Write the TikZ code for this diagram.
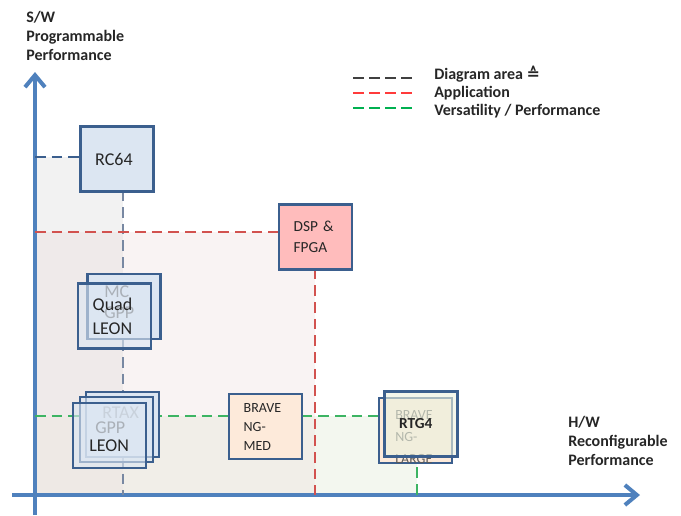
\documentclass[tikz,border=0pt]{standalone}
\usepackage{fontspec}
\setmainfont{Carlito}
\newfontfamily\symfont{DejaVu Sans}
\usetikzlibrary{arrows.meta}

\definecolor{axisblue}{HTML}{4F81BD}
\definecolor{boxline}{HTML}{3B5F8E}
\definecolor{chipblue}{HTML}{DCE6F2}
\definecolor{chippink}{HTML}{FFBCBC}
\definecolor{chippeach}{HTML}{FDEADA}
\definecolor{chipgreen}{HTML}{EBF1DE}
\definecolor{areagray}{HTML}{F2F2F2}
\definecolor{areapink}{HTML}{F9F3F3}
\definecolor{areagreen}{HTML}{F3F7EF}
\definecolor{areagp}{HTML}{EFEAEA}
\definecolor{areapg}{HTML}{F1EEE8}
\definecolor{areaall}{HTML}{EEE9E5}
\definecolor{diagdash}{HTML}{3B5F8E}
\definecolor{diagfade}{HTML}{7888A2}
\definecolor{appdash}{HTML}{D2524F}
\definecolor{verdash}{HTML}{3DB463}
\definecolor{legdark}{HTML}{404040}
\definecolor{legred}{HTML}{FF3B3B}
\definecolor{leggreen}{HTML}{00B050}
\definecolor{txt}{HTML}{262626}
\definecolor{hidden}{HTML}{595959}

\tikzset{
  axisline/.style={draw=axisblue, line width=3pt, -{Straight Barb[length=9pt,width=15pt]}},
  chip/.style={draw=boxline, line width=1.9pt, minimum width=54.75pt, minimum height=48.75pt,
    inner xsep=11pt, inner ysep=0pt, text width=32.75pt, align=left, text=txt,
    font=\fontsize{13.5}{18}\selectfont},
  front/.style={fill opacity=0.62, text opacity=1},
  ghost/.style={anchor=west, inner sep=0pt, align=left, text=hidden},
  areadash/.style={line width=1.5pt, dash pattern=on 8pt off 4.5pt},
  legdash/.style={line width=1.6pt, dash pattern=on 8pt off 4pt},
  legtext/.style={anchor=base west, inner sep=0pt, text=txt, font=\bfseries\fontsize{12}{14}\selectfont},
  axislabel/.style={anchor=north west, inner sep=0pt, align=left, text=txt,
    font=\bfseries\fontsize{12}{14.25}\selectfont},
}

\begin{document}
\begin{tikzpicture}[x=0.75pt,y=-0.75pt]
\useasboundingbox (0,0) rectangle (681,515);

% origin and the corners of the three areas
\coordinate (o) at (35,495);
\coordinate (dp) at (123,157);
\coordinate (ap) at (315,232);
\coordinate (vp) at (417,416);

% areas
\fill[areapink] (o) rectangle (ap);
\fill[areagreen] (o) rectangle (vp);
\fill[areapg] (o) rectangle (ap |- vp);
\fill[areagray] (o) rectangle (dp);
\fill[areagp] (o) rectangle (dp |- ap);
\fill[areaall] (o) rectangle (dp |- vp);

% axes
\coordinate (ybot) at (35,515);
\coordinate (ytop) at (35,72);
\coordinate (xbeg) at (12,495);
\coordinate (xend) at (640,495);
\draw[axisline] (ybot) -- (ytop);
\draw[axisline] (xbeg) -- (xend);

% area borders
\draw[areadash, diagdash] (o |- dp) -- (dp);
\draw[areadash, diagfade] (dp) -- (dp |- o);
\draw[areadash, appdash] (o |- ap) -- (ap) -- (ap |- o);
\draw[areadash, verdash] (o |- vp) -- (vp) -- (vp |- o);

% devices
\node[chip, fill=chipblue] (rc64) at (117,159) {RC64};
\node[chip, fill=chippink, font=\fontsize{11.5}{15.75}\selectfont] (dsp) at (315.5,237) {DSP \&\\FPGA};

\node[chip, fill=chipblue] (mcgpp) at (124,306.5) {};
\node[ghost, font=\fontsize{13.5}{15.75}\selectfont] (mctext) at (104,302.5) {MC\\GPP};
\node[chip, front, fill=chipblue] (quad) at (114.5,316) {Quad\\LEON};

\node[chip, fill=chipblue] (rtax) at (122.5,424.5) {};
\node[ghost, font=\fontsize{13.5}{15}\selectfont] (rtaxtext) at (102,413) {RTAX};
\node[chip, front, fill=chipblue] (gpp) at (116.5,429.5) {};
\node[ghost, font=\fontsize{13.5}{15}\selectfont] (gpptext) at (95,428) {GPP};
\node[chip, front, fill=chipblue] (leon) at (109.5,435.5) {};
\node[ghost, text=txt, font=\fontsize{13.5}{15}\selectfont] (leontext) at (89,446) {LEON};

\node[chip, fill=chippeach, font=\fontsize{10.5}{14.25}\selectfont] (brave) at (265.5,426.5) {BRAVE\\NG-\\MED};

\node[chip, fill=chippeach] (nglarge) at (415.5,430.5) {};
\node[ghost, font=\fontsize{10.5}{16.5}\selectfont] (ngtext) at (395,437) {BRAVE\\NG-\\LARGE};
\node[chip, front, fill=chipgreen, font=\bfseries\fontsize{11.5}{13}\selectfont] (rtg4) at (421,424) {RTG4};

% legend
\draw[legdash, legdark] (353,78) coordinate (la) -- (414,78) coordinate (lb);
\draw[legdash, legred] (353,93) coordinate (lc) -- (414,93) coordinate (ld);
\draw[legdash, leggreen] (353,108) coordinate (le) -- (414,108) coordinate (lf);
\node[legtext] (diagleg) at (434,79) {Diagram area {\symfont ≙}};
\node[legtext] (appleg) at (434,97) {Application};
\node[legtext] (verleg) at (434,115) {Versatility / Performance};

% axis labels
\node[axislabel] (ylabel) at (26,11) {S/W\\Programmable\\Performance};
\node[axislabel] (xlabel) at (568,416) {H/W\\Reconfigurable\\Performance};
\end{tikzpicture}
\end{document}
